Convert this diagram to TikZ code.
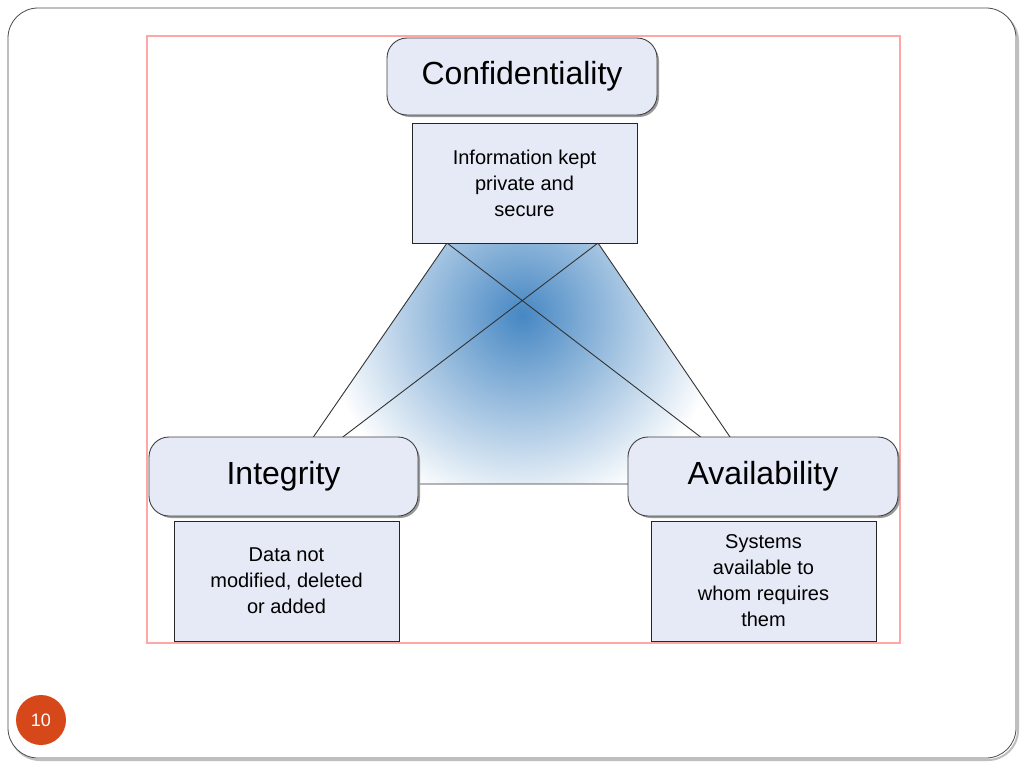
\documentclass[tikz,border=0pt]{standalone}
\usepackage{fontspec}
\setmainfont{Liberation Sans}
\begin{document}
\begin{tikzpicture}[x=1pt,y=-1pt,
  head/.style={draw=black!75,fill=boxfill,rounded corners=20pt,line width=0.9pt},
  desc/.style={draw=black!85,fill=boxfill,line width=0.9pt},
  ht/.style={font=\fontsize{32}{36}\selectfont},
  dt/.style={font=\fontsize{20}{26}\selectfont,align=center}]
\definecolor{boxfill}{RGB}{230,234,246}
\definecolor{tri}{RGB}{70,135,195}
\definecolor{pg}{RGB}{214,72,25}
\useasboundingbox (0,0) rectangle (1024,768);
\fill[white] (0,0) rectangle (1024,768);
\draw[black!25,line width=2pt,rounded corners=30pt] (10,11) rectangle (1018,760);
\draw[black!70,fill=white,line width=0.8pt,rounded corners=30pt] (8,8) rectangle (1016,758);
\draw[red!35,line width=1.2pt] (147,36) rectangle (900,643);
% triangle
\begin{scope}
\clip (447,243) -- (598,243) -- (762,484) -- (281,484) -- cycle;
\shade[inner color=tri,outer color=white] (522,315) circle (200);
\end{scope}
\draw[black!80,line width=0.9pt] (447,243) -- (762,484) (598,243) -- (281,484) ;
\draw[black!80,line width=0.9pt] (447,243) -- (281,484) (598,243) -- (762,484) (281,484) -- (762,484);
% boxes
\fill[black!40,rounded corners=20pt] (390,41) rectangle (659,117);
\node[head,minimum width=270pt,minimum height=77pt,ht] (c) at (522,76.5) {Confidentiality};
\node[desc,minimum width=225pt,minimum height=120pt,dt] (cd) at (524.5,183) {Information kept\\private and\\secure};
\fill[black!40,rounded corners=20pt] (152,440) rectangle (420,518);
\node[head,minimum width=269pt,minimum height=79pt,ht] (i) at (283.5,476.5) {Integrity};
\node[desc,minimum width=225pt,minimum height=120pt,dt] (id) at (286.5,581) {Data not\\modified, deleted\\or added};
\fill[black!40,rounded corners=20pt] (631,440) rectangle (900,518);
\node[head,minimum width=270pt,minimum height=79pt,ht] (a) at (763,476.5) {Availability};
\node[desc,minimum width=225pt,minimum height=120pt,dt] (ad) at (763.5,581) {Systems\\available to\\whom requires\\them};
% page number
\node[circle,fill=pg,minimum size=50pt,inner sep=0pt,text=white,font=\fontsize{18}{20}\selectfont] (pn) at (41,720) {10};
\end{tikzpicture}
\end{document}
